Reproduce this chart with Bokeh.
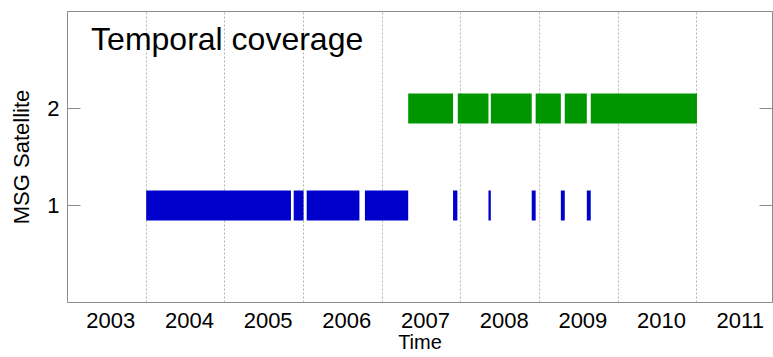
from bokeh.plotting import figure
from bokeh.models import (ColumnDataSource, FixedTicker, LinearAxis, Grid, Label, Range1d)
from bokeh.embed import file_html
from bokeh.resources import INLINE

# ---- data (decimal years) ----
years = [2003, 2004, 2005, 2006, 2007, 2008, 2009, 2010, 2011]
satellite_ticks = [1, 2]

sat1_start = [2004.00, 2005.875, 2006.04, 2006.78, 2007.90, 2008.35, 2008.90, 2009.27, 2009.60]
sat1_end = [2005.84, 2006.00, 2006.71, 2007.33, 2007.955, 2008.38, 2008.95, 2009.32, 2009.65]
sat1_level = [1] * len(sat1_start)

sat2_start = [2007.33, 2007.96, 2008.38, 2008.95, 2009.32, 2009.65]
sat2_end = [2007.90, 2008.35, 2008.90, 2009.27, 2009.60, 2011.00]
sat2_level = [2] * len(sat2_start)

# ---- styling constants ----
BAR_HALF = 0.155
LABEL_SHIFT = 0.55
FONT = "Liberation Sans"
BLUE = "#0000CC"
GREEN = "#009600"
FRAME = "#8c8c8c"

p = figure(width=773, height=357, output_backend="svg", toolbar_location=None,
           x_range=Range1d(2003, 2011.96), y_range=Range1d(0, 3),
           min_border_left=67, min_border_right=1, min_border_top=11, min_border_bottom=55,
           x_axis_location="below")
p.background_fill_color = "white"
p.border_fill_color = "white"
p.outline_line_color = FRAME
p.outline_line_width = 1

src1 = ColumnDataSource(dict(l=sat1_start, r=sat1_end,
                             b=[v - BAR_HALF for v in sat1_level],
                             t=[v + BAR_HALF for v in sat1_level]))
src2 = ColumnDataSource(dict(l=sat2_start, r=sat2_end,
                             b=[v - BAR_HALF for v in sat2_level],
                             t=[v + BAR_HALF for v in sat2_level]))
p.quad(left="l", right="r", bottom="b", top="t", source=src1,
       fill_color=BLUE, line_color=None)
p.quad(left="l", right="r", bottom="b", top="t", source=src2,
       fill_color=GREEN, line_color=None)

# grid: vertical dotted lines at year boundaries only
p.xgrid.visible = False
p.ygrid.visible = False
vgrid = Grid(dimension=0, ticker=FixedTicker(ticks=[y for y in years[1:]]),
             grid_line_color="#b4b4b4", grid_line_dash="2 2", grid_line_width=1)
p.add_layout(vgrid)

# x axis: labels centred in each year
xa = p.xaxis[0]
xa.ticker = FixedTicker(ticks=[y + LABEL_SHIFT for y in years])
xa.major_label_overrides = {y + LABEL_SHIFT: str(y) for y in years}
xa.major_tick_in = 0
xa.major_tick_out = 0
xa.minor_tick_line_color = None
xa.axis_line_color = None
xa.major_label_text_font = FONT
xa.major_label_text_font_size = "22px"
xa.major_label_text_color = "black"
xa.major_label_standoff = 10
xa.axis_label = "Time"
xa.axis_label_text_font = FONT
xa.axis_label_text_font_size = "20px"
xa.axis_label_text_font_style = "normal"
xa.axis_label_text_color = "black"
xa.axis_label_standoff = 0

# y axis
ya = p.yaxis[0]
ya.ticker = FixedTicker(ticks=satellite_ticks)
ya.major_tick_in = 13
ya.major_tick_out = 0
ya.major_tick_line_color = FRAME
ya.minor_tick_line_color = None
ya.axis_line_color = None
ya.major_label_text_font = FONT
ya.major_label_text_font_size = "22px"
ya.major_label_text_color = "black"
ya.major_label_standoff = 8
ya.axis_label = "MSG Satellite"
ya.axis_label_text_font = FONT
ya.axis_label_text_font_size = "22px"
ya.axis_label_text_font_style = "normal"
ya.axis_label_text_color = "black"
ya.axis_label_standoff = 10

ra = LinearAxis(ticker=FixedTicker(ticks=satellite_ticks),
                major_tick_in=13, major_tick_out=0, major_tick_line_color=FRAME,
                minor_tick_line_color=None, axis_line_color=None,
                major_label_overrides={t: "" for t in satellite_ticks},
                major_label_text_color=None, major_label_text_font_size="1px",
                major_label_standoff=0)
p.add_layout(ra, "right")

title = Label(x=2003.30, y=2.72, text="Temporal coverage", text_font=FONT,
              text_font_size="32px", text_color="black", text_baseline="alphabetic")
p.add_layout(title)

open("out.html", "w").write(file_html(p, INLINE))
